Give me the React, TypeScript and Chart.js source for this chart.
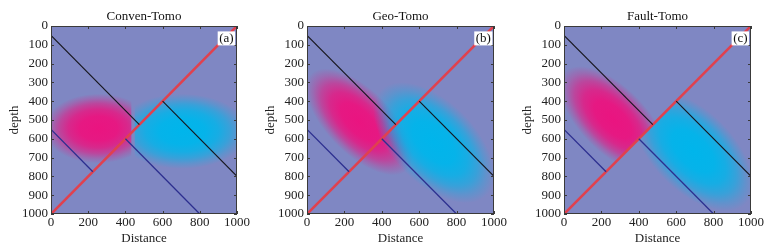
import React, { useEffect, useRef } from "react";
import { Chart, registerables } from "chart.js";
Chart.register(...registerables);

// ---------- data ----------
const X_TICKS = [0, 200, 400, 600, 800, 1000];
const Y_TICKS = [0, 100, 200, 300, 400, 500, 600, 700, 800, 900, 1000];
const PANEL_TITLES = ["Conven-Tomo", "Geo-Tomo", "Fault-Tomo"];
const PANEL_TAGS = ["(a)", "(b)", "(c)"];
const X_LABEL = "Distance";
const Y_LABEL = "depth";

// fault traces (distance, depth)
const RED_FAULT = [{ x: 0, y: 1000 }, { x: 1000, y: 0 }];
const BLACK_UPPER_LEFT = [{ x: 0, y: 50 }, { x: 475, y: 525 }];
const BLACK_UPPER_RIGHT = [{ x: 600, y: 400 }, { x: 1000, y: 800 }];
const BLUE_LOWER_LEFT = [{ x: 0, y: 550 }, { x: 225, y: 775 }];
const BLUE_LOWER_RIGHT = [{ x: 400, y: 600 }, { x: 800, y: 1000 }];

// regions (distance, depth) that bound each anomaly
const LEFT_OF_BOUNDARY = [[0, 0], [432, 0], [432, 1000], [0, 1000]];
const RIGHT_OF_BOUNDARY = [[450, 0], [1000, 0], [1000, 1000], [450, 1000]];
const ABOVE_FAULT = [[0, 0], [1000, 0], [0, 1000]];
const BELOW_FAULT = [[1000, 0], [1000, 1000], [0, 1000]];
const WHOLE_MODEL = [[0, 0], [1000, 0], [1000, 1000], [0, 1000]];

// anomalies: centre distance, centre depth, semi-axes, tilt (deg), polarity, region
const ANOMALIES_A = [
  { cx: 255, cy: 545, major: 295, minor: 185, angle: 0, polarity: 1, region: LEFT_OF_BOUNDARY },
  { cx: 705, cy: 560, major: 355, minor: 200, angle: 0, polarity: -1, region: RIGHT_OF_BOUNDARY },
];
const ANOMALIES_B = [
  { cx: 280, cy: 510, major: 365, minor: 172, angle: 45, polarity: 1, region: WHOLE_MODEL },
  { cx: 678, cy: 620, major: 400, minor: 220, angle: 45, polarity: -1, region: WHOLE_MODEL },
];
const ANOMALIES_C = [
  { cx: 262, cy: 498, major: 365, minor: 175, angle: 45, polarity: 1, region: ABOVE_FAULT },
  { cx: 690, cy: 665, major: 400, minor: 215, angle: 45, polarity: -1, region: BELOW_FAULT },
];
const PANEL_ANOMALIES = [ANOMALIES_A, ANOMALIES_B, ANOMALIES_C];

// tag position (distance, depth)
const TAG_POS = { x: 943, y: 66 };

// ---------- styles ----------
const FONT_FAMILY = '"Liberation Serif", "Times New Roman", serif';
const BG_RGB = [127, 135, 195];
const HIGH_RGB = [234, 20, 128];
const LOW_RGB = [0, 181, 235];
const FALLOFF = [
  [0, 1], [0.35, 0.96], [0.55, 0.82], [0.72, 0.56], [0.86, 0.25], [1, 0],
];
const CANVAS_LEFT = [0, 256, 513];
const CANVAS_WIDTH = [256, 257, 266];
const RIGHT_PAD = [19, 19, 28];

const rgba = (c: number[], a: number) => `rgba(${c[0]},${c[1]},${c[2]},${a})`;

const heatmapPlugin = {
  id: "heatmap",
  beforeDatasetsDraw(chart: any) {
    const { ctx, chartArea: ca, scales } = chart;
    const xs = scales.x, ys = scales.y;
    const anomalies = chart.options.plugins.heatmap.anomalies;
    ctx.save();
    ctx.beginPath();
    ctx.rect(ca.left, ca.top, ca.right - ca.left, ca.bottom - ca.top);
    ctx.clip();
    ctx.fillStyle = rgba(BG_RGB, 1);
    ctx.fillRect(ca.left, ca.top, ca.right - ca.left, ca.bottom - ca.top);
    for (const an of anomalies) {
      ctx.save();
      ctx.beginPath();
      an.region.forEach((p: number[], i: number) => {
        const px = xs.getPixelForValue(p[0]);
        const py = ys.getPixelForValue(p[1]);
        if (i === 0) ctx.moveTo(px, py); else ctx.lineTo(px, py);
      });
      ctx.closePath();
      ctx.clip();
      const px = xs.getPixelForValue(an.cx);
      const py = ys.getPixelForValue(an.cy);
      const sx = Math.abs(xs.getPixelForValue(an.major) - xs.getPixelForValue(0));
      const sy = Math.abs(ys.getPixelForValue(an.minor) - ys.getPixelForValue(0));
      ctx.translate(px, py);
      ctx.rotate((an.angle * Math.PI) / 180);
      ctx.scale(sx, sy);
      const col = an.polarity > 0 ? HIGH_RGB : LOW_RGB;
      const g = ctx.createRadialGradient(0, 0, 0, 0, 0, 1);
      FALLOFF.forEach(([t, a]) => g.addColorStop(t, rgba(col, a)));
      ctx.fillStyle = g;
      ctx.beginPath();
      ctx.arc(0, 0, 1, 0, Math.PI * 2);
      ctx.fill();
      ctx.restore();
    }
    ctx.restore();
  },
  afterDatasetsDraw(chart: any) {
    const { ctx, chartArea: ca, scales } = chart;
    const xs = scales.x, ys = scales.y;
    ctx.save();
    // frame
    ctx.strokeStyle = "#3a3a3a";
    ctx.lineWidth = 1;
    ctx.strokeRect(ca.left + 0.5, ca.top + 0.5, ca.right - ca.left - 1, ca.bottom - ca.top - 1);
    // inward ticks
    ctx.beginPath();
    const tl = 3;
    X_TICKS.forEach((v) => {
      const px = Math.round(xs.getPixelForValue(v)) + 0.5;
      ctx.moveTo(px, ca.bottom); ctx.lineTo(px, ca.bottom - tl);
      ctx.moveTo(px, ca.top); ctx.lineTo(px, ca.top + tl);
    });
    Y_TICKS.forEach((v) => {
      const py = Math.round(ys.getPixelForValue(v)) + 0.5;
      ctx.moveTo(ca.left, py); ctx.lineTo(ca.left + tl, py);
      ctx.moveTo(ca.right, py); ctx.lineTo(ca.right - tl, py);
    });
    ctx.stroke();
    // tag
    const opts = chart.options.plugins.heatmap;
    ctx.font = `13px ${FONT_FAMILY}`;
    const w = ctx.measureText(opts.tag).width + 3;
    const h = 14;
    const cx = xs.getPixelForValue(TAG_POS.x);
    const cy = ys.getPixelForValue(TAG_POS.y);
    ctx.fillStyle = "#ffffff";
    ctx.fillRect(cx - w / 2, cy - h / 2, w, h);
    ctx.fillStyle = "#111";
    ctx.textAlign = "center";
    ctx.textBaseline = "middle";
    ctx.fillText(opts.tag, cx, cy + 0.5);
    // panel title centred over the plot
    ctx.textBaseline = "alphabetic";
    ctx.fillText(opts.title, (ca.left + ca.right) / 2, ca.top - 6);
    ctx.restore();
  },
};

function seg(data: any[], color: string, width: number) {
  return {
    data,
    showLine: true,
    borderColor: color,
    borderWidth: width,
    pointRadius: 0,
    fill: false,
  };
}

function Panel({ index }: { index: number }) {
  const ref = useRef<HTMLCanvasElement>(null);
  useEffect(() => {
    const font = { family: FONT_FAMILY, size: 13 };
    const chart = new Chart(ref.current as HTMLCanvasElement, {
      type: "scatter",
      data: {
        datasets: [
          seg(BLACK_UPPER_LEFT, "#15151c", 1.1),
          seg(BLACK_UPPER_RIGHT, "#15151c", 1.1),
          seg(BLUE_LOWER_LEFT, "#2c2f8f", 1.3),
          seg(BLUE_LOWER_RIGHT, "#2c2f8f", 1.3),
          seg(RED_FAULT, "#e0414e", 2.6),
        ],
      },
      options: {
        animation: false,
        responsive: false,
        events: [],
        layout: { padding: { left: 0, right: RIGHT_PAD[index], top: 26, bottom: 0 } },
        plugins: {
          legend: { display: false },
          tooltip: { enabled: false },
          title: { display: false },
          heatmap: { anomalies: PANEL_ANOMALIES[index], tag: PANEL_TAGS[index], title: PANEL_TITLES[index] },
        } as any,
        scales: {
          x: {
            type: "linear",
            min: 0,
            max: 1000,
            afterBuildTicks: (s: any) => { s.ticks = X_TICKS.map((v) => ({ value: v })); },
            ticks: { font, color: "#222", padding: 1, maxRotation: 0, autoSkip: false, callback: (v: any) => String(v) },
            grid: { display: false, drawTicks: false },
            border: { display: false },
            title: { display: true, text: X_LABEL, font, color: "#222", padding: { top: 0, bottom: 3 } },
            afterFit: (s: any) => { s.height = 35; },
          },
          y: {
            type: "linear",
            reverse: true,
            min: 0,
            max: 1000,
            afterBuildTicks: (s: any) => { s.ticks = Y_TICKS.map((v) => ({ value: v })); },
            ticks: { font, color: "#222", padding: 3, autoSkip: false, callback: (v: any) => String(v) },
            grid: { display: false, drawTicks: false },
            border: { display: false },
            title: { display: true, text: Y_LABEL, font, color: "#222", padding: { top: 7.2, bottom: 0 } },
            afterFit: (s: any) => { s.width = 51; },
          },
        },
      } as any,
      plugins: [heatmapPlugin],
    });
    return () => chart.destroy();
  }, [index]);
  return (
    <canvas
      ref={ref}
      width={CANVAS_WIDTH[index]}
      height={249}
      style={{ position: "absolute", left: CANVAS_LEFT[index], top: 0, width: CANVAS_WIDTH[index], height: 249 }}
    />
  );
}

export default function App() {
  return (
    <div style={{ position: "fixed", left: 0, top: 0, width: 779, height: 249, background: "#fff", overflow: "hidden" }}>
      {[0, 1, 2].map((i) => (
        <Panel key={i} index={i} />
      ))}
    </div>
  );
}
